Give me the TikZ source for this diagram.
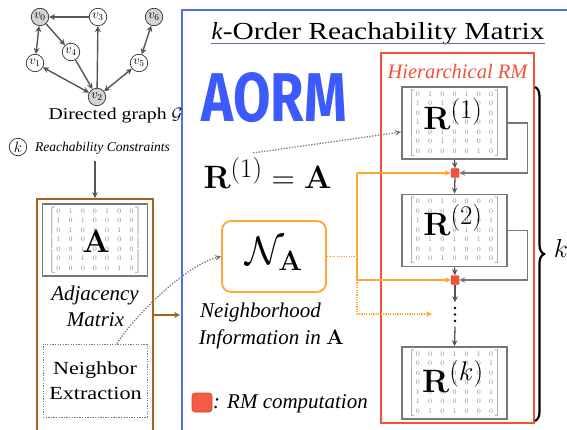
\RequirePackage{fix-cm}
\documentclass[tikz,border=0pt]{standalone}
\usepackage[no-math]{fontspec}
\setmainfont{Liberation Serif}[UprightFeatures={FakeStretch=1.2}]
\newfontfamily\aormfont{Fira Sans}
\usepackage{graphicx}
\usetikzlibrary{arrows.meta,decorations.pathreplacing,calc}
\DeclareMathSizes{40}{40}{28}{20}
\definecolor{bluec}{RGB}{74,108,247}
\definecolor{aormblue}{RGB}{61,90,254}
\definecolor{redc}{RGB}{244,81,58}
\definecolor{brownc}{RGB}{168,100,30}
\definecolor{orangec}{RGB}{255,166,50}
\definecolor{boxgray}{RGB}{120,120,120}
\definecolor{edgegray}{RGB}{85,85,85}
\definecolor{nodegray}{RGB}{212,212,212}
\definecolor{matgray}{RGB}{140,140,140}
\definecolor{ulblue}{RGB}{90,115,185}
\newcommand{\smat}[1]{{\fontsize{7}{9.5}\selectfont\color{matgray}$\setlength{\arraycolsep}{4.1pt}\left[\begin{array}{@{\hspace{1.5pt}}ccccccc@{\hspace{1.5pt}}}#1\end{array}\right]$}}
\newcommand{\bigmath}[1]{\scalebox{1.3}{\fontsize{24.88}{30}\selectfont$#1$}}
\begin{document}
\begin{tikzpicture}[x=1pt,y=-1pt,
  gnode/.style={circle,draw=black!80,line width=0.7pt,minimum size=17.5pt,inner sep=0pt,fill=white,font=\fontsize{13}{13}\selectfont},
  gfill/.style={gnode,fill=nodegray},
  gedge/.style={draw=edgegray,line width=1.4pt,-{Stealth[length=6pt,width=6pt]}},
  gboth/.style={draw=edgegray,line width=1.4pt,{Stealth[length=6pt,width=6pt]}-{Stealth[length=6pt,width=6pt]}},
  matbox/.style={draw=boxgray,line width=1.6pt,minimum width=105pt,minimum height=72pt,inner sep=0pt,fill=white},
  varrow/.style={draw=edgegray,line width=1.3pt,-{Stealth[length=6pt,width=5.5pt]}},
  fbline/.style={draw=boxgray,line width=1.3pt,-{Stealth[length=6pt,width=5.5pt]}},
  oline/.style={draw=orangec,line width=1.2pt},
  odot/.style={draw=orangec,line width=1.2pt,dash pattern=on 1.2pt off 1.2pt},
  otip/.style={-{Stealth[length=6pt,width=5.5pt]}},
  gdot/.style={draw=boxgray,line width=1.3pt,dash pattern=on 1.3pt off 1.5pt,-{Stealth[length=6pt,width=5.5pt]}},
  sqnode/.style={fill=redc,draw=redc!85!black,line width=0.4pt,minimum width=8pt,minimum height=9pt,inner sep=0pt,rounded corners=1pt},
  itx/.style={font=\fontsize{21}{25}\selectfont\itshape},
  bigm/.style={anchor=base,inner sep=0pt}
]
\useasboundingbox (0,0) rectangle (567,430);
\clip (0,0) rectangle (567,430);

% ---- graph ----
\node[gfill] (v0) at (40,17) {$v_0$};
\node[gnode] (v3) at (98,17) {$v_3$};
\node[gfill] (v6) at (154,17) {$v_6$};
\node[gnode] (v4) at (71,52) {$v_4$};
\node[gnode] (v1) at (35,63) {$v_1$};
\node[gnode] (v5) at (139,63) {$v_5$};
\node[gfill] (v2) at (97,97) {$v_2$};
\draw[gedge] (v3) -- (v0);
\draw[gedge] (v0) -- (v4);
\draw[gboth] (v0) -- (v1);
\draw[gedge] (v4) -- (v2);
\draw[gedge] (v2) -- (v3);
\draw[gboth] (v1) -- (v2);
\draw[gboth] (v2) -- (v5);
\draw[gboth] (v5) -- (v6);
\node[anchor=base] (gcap) at (115.5,120) {\fontsize{16.5}{20}\selectfont Directed graph $\mathcal{G}$};
\node[gnode,font=\fontsize{15}{15}\selectfont] (kc) at (18,147) {$k$};
\node[anchor=base west,inner sep=0pt] (rc) at (35,151.5) {\fontsize{13.5}{16}\selectfont\itshape Reachability Constraints};

% ---- left brown box ----
\coordinate (kdown) at (95,161);
\node[draw=brownc,line width=1.8pt,minimum width=116pt,minimum height=260pt,inner sep=0pt] (bb) at (95,329) {};
\draw[varrow] (kdown) -- (bb.north);
\node[matbox] (Abox) at (95,240) {};
\node (Amat) at (Abox) {\smat{0&1&0&0&1&0&0\\1&0&1&0&0&0&0\\0&1&0&1&0&1&0\\1&0&0&0&0&0&0\\0&0&1&0&0&0&0\\0&0&1&0&0&0&1\\0&0&0&0&0&1&0}};
\node[bigm] (Alet) at (96,253) {\bigmath{\mathbf{A}}};
\node[itx,anchor=base] (adj1) at (95,300.5) {Adjacency};
\node[itx,anchor=base] (adj2) at (95.5,326.5) {Matrix};
\node[draw=boxgray,line width=1pt,dash pattern=on 1.3pt off 1.3pt,minimum width=104pt,minimum height=73pt,inner sep=0pt] (nbr) at (95,380.5) {};
\node[anchor=base,font=\fontsize{18.5}{22}\selectfont] (nb1) at (95,374) {Neighbor};
\node[anchor=base,font=\fontsize{18.5}{22}\selectfont] (nb2) at (95.5,399) {Extraction};

% ---- blue box ----
\draw[draw=bluec,line width=2pt] (182,10) rectangle (600,460);
\coordinate (bin) at (180,315);
\draw[draw=brownc,line width=1.6pt,-{Stealth[length=6pt,width=6pt]}] (bb.east |- bin) -- (bin);
\node[anchor=base,inner sep=0pt,font=\fontsize{24.5}{29}\selectfont] (title) at (378,40) {\textit{k}-Order Reachability Matrix};
\draw[ulblue,line width=1pt] (title.west |- 0,43.5) -- (title.east |- 0,43.5);
\node[inner sep=0pt,text=aormblue] (aorm) at (274.5,97.5) {\resizebox{145pt}{49pt}{\aormfont\bfseries AORM}};
\node[bigm] (eq) at (267.5,189) {\bigmath{\mathbf{R}^{(1)}=\mathbf{A}}};

% ---- hierarchical RM ----
\draw[redc,line width=2pt] (381,53) rectangle (534,423);
\node[anchor=base,text=redc,font=\fontsize{20.5}{24}\selectfont\itshape] (hrm) at (457.5,79) {Hierarchical RM};

\node[matbox] (R1) at (454.5,123) {};
\node at (R1) {\smat{0&1&0&0&1&0&0\\1&0&1&0&0&0&0\\0&1&0&1&0&1&0\\1&0&0&0&0&0&0\\0&0&1&0&0&0&0\\0&0&1&0&0&0&1\\0&0&0&0&0&1&0}};
\node[bigm] (R1l) at (453,130) {\bigmath{\mathbf{R}^{(1)}}};

\node[matbox] (R2) at (454.5,230.5) {};
\node at (R2) {\smat{0&0&1&0&0&0&0\\0&0&0&1&1&1&0\\1&0&0&0&0&0&1\\0&1&0&0&1&0&0\\0&1&0&1&0&1&0\\0&1&0&1&0&0&0\\0&0&1&0&0&0&0}};
\node[bigm] (R2l) at (453,236) {\bigmath{\mathbf{R}^{(2)}}};

\node[matbox] (Rk) at (454.5,383) {};
\node at (Rk) {\smat{0&0&0&1&0&1&0\\0&0&0&0&0&0&1\\0&0&0&0&1&0&0\\0&0&1&0&0&0&0\\1&0&0&0&0&0&1\\1&0&0&0&0&0&0\\0&1&0&1&0&0&0}};
\node[bigm] (Rkl) at (453,392) {\bigmath{\mathbf{R}^{(k)}}};

\node[sqnode] (s1) at (455,173) {};
\node[sqnode] (s2) at (455,280) {};
\node[inner sep=0pt,minimum width=4pt,minimum height=24pt] (dots) at (455,314.5) {};
\foreach \yy in {308,314.5,321} \fill[black] (455,\yy) circle (1.4pt);

\draw[varrow] (R1.south) -- (s1.north);
\draw[varrow] (s1.south) -- (R2.north);
\draw[varrow] (R2.south) -- (s2.north);
\draw[varrow] (s2.south) -- (dots.north);
\draw[varrow] (dots.south) -- (Rk.north);
\draw[fbline] (R1.east) -- ++(20,0) |- (s1.east);
\draw[fbline] (R2.east) -- ++(20,0) |- (s2.east);

% ---- neighborhood ----
\node[draw=orangec,line width=1.8pt,rounded corners=9pt,minimum width=104pt,minimum height=71pt,inner sep=0pt] (NA) at (274,256.5) {};
\node (NAt) at (274,254) {\fontsize{40}{48}\selectfont$\mathcal{N}_{\mathbf{A}}$};
\node[itx,anchor=base] (nh1) at (260.5,317) {Neighborhood};
\node[itx,anchor=base] (nh2) at (271.5,344) {Information in $\mathbf{A}$};
\coordinate (oj) at (357,256.5);
\coordinate (oend) at (432,314);
\draw[odot] (NA.east) -- (oj);
\draw[oline] (s1.west -| oj) -- (s2.west -| oj);
\draw[oline,otip] (s1.west -| oj) -- (s1.west);
\draw[oline,otip] (s2.west -| oj) -- (s2.west);
\draw[odot,otip] (s2.west -| oj) |- (oend);

% ---- dotted gray connectors ----
\coordinate (eqc) at (253,153);
\draw[gdot] (eqc) -- ([yshift=-9pt]R1.west);
\draw[gdot] ([xshift=22pt]nbr.north) .. controls (133,318) and (185,265) .. (NA.west);

% ---- legend ----
\node[fill=redc!95!white,draw=redc!85!black,line width=0.6pt,rounded corners=3pt,minimum width=20pt,minimum height=19pt,inner sep=0pt] (leg) at (202,402.5) {};
\node[itx,anchor=base west,inner sep=0pt] (legt) at (213,408) {: RM computation};

% ---- brace ----
\draw[decorate,decoration={brace,amplitude=9pt},line width=2.2pt] (535,87) -- (535,421);
\node (kb) at (561,248) {\fontsize{26}{30}\selectfont$k$};
\end{tikzpicture}
\end{document}
